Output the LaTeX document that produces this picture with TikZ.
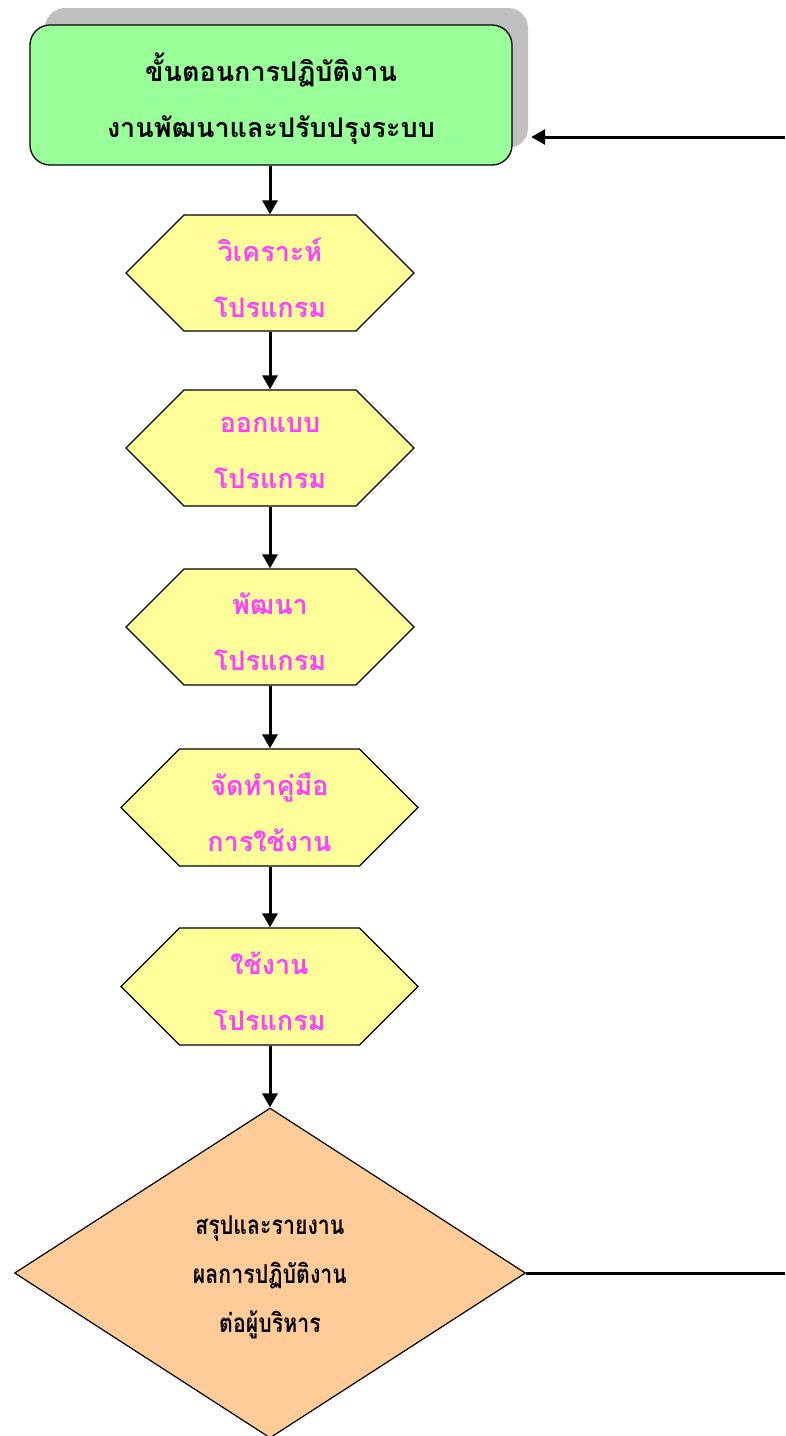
\documentclass[tikz,border=0pt]{standalone}
\usepackage{fontspec}
\newfontfamily\thaifont[Script=Thai]{Loma}
\newfontfamily\thaicond[Script=Thai,FakeStretch=0.82]{Loma}
\usetikzlibrary{shapes.geometric,shapes.symbols,arrows.meta}
\definecolor{boxgreen}{HTML}{99FF99}
\definecolor{hexyellow}{HTML}{FFFF99}
\definecolor{diaorange}{HTML}{FFCC99}
\definecolor{shadowgray}{HTML}{C0C0C0}
\definecolor{pinktext}{HTML}{FF40FF}
\tikzset{
  titlebox/.style={draw=black, line width=1.3pt, fill=boxgreen, rounded corners=20pt,
    minimum width=482pt, minimum height=140pt},
  titletext/.style={align=center, yshift=-4pt, font=\thaifont\bfseries\fontsize{27}{56}\selectfont},
  shadowbox/.style={fill=shadowgray, rounded corners=20pt, minimum width=483pt, minimum height=140pt},
  hexbox/.style={draw=black, line width=1.3pt, fill=hexyellow, signal, signal to=west and east,
    signal pointer angle=90, minimum height=116pt, inner sep=0pt},
  hextext/.style={align=center, yshift=-5pt, text=pinktext,
    font=\thaifont\bfseries\fontsize{27}{56}\selectfont},
  diabox/.style={draw=black, line width=1.2pt, fill=diaorange, diamond, minimum width=511pt,
    minimum height=330pt, inner sep=0pt},
  diatext/.style={align=center, yshift=-4pt, font=\thaicond\bfseries\fontsize{26}{49}\selectfont},
  arr/.style={line width=3pt, -{Triangle[length=14pt,width=15pt]}},
  plainline/.style={line width=3pt}
}
\begin{document}
\begin{tikzpicture}[x=1pt,y=-1pt]
\useasboundingbox (0,0) rectangle (785,1436);
\node[shadowbox] (shadow) at (286.5,78) {};
\node[titlebox, label={[titletext]center:{ขั้นตอนการปฏิบัติงาน\\งานพัฒนาและปรับปรุงระบบ}}] (title) at (271,95) {};
\node[hexbox, minimum width=288pt, label={[hextext]center:{วิเคราะห์\\โปรแกรม}}] (h1) at (270,273) {};
\node[hexbox, minimum width=288pt, label={[hextext]center:{ออกแบบ\\โปรแกรม}}] (h2) at (270,448) {};
\node[hexbox, minimum width=288pt, label={[hextext]center:{พัฒนา\\โปรแกรม}}] (h3) at (270,627) {};
\node[hexbox, minimum width=297pt, minimum height=117pt, label={[hextext]center:{จัดทำคู่มือ\\การใช้งาน}}] (h4) at (269.5,807.5) {};
\node[hexbox, minimum width=297pt, minimum height=117pt, label={[hextext]center:{ใช้งาน\\โปรแกรม}}] (h5) at (269.5,986.5) {};
\node[diabox, label={[diatext]center:{สรุปและรายงาน\\ผลการปฏิบัติงาน\\ต่อผู้บริหาร}}] (dia) at (270,1273) {};
\coordinate (rin) at (785,137);
\coordinate (rout) at (785,1273);
\draw[arr] (title.south -| h1.north) -- (h1.north);
\draw[arr] (h1.south) -- (h2.north);
\draw[arr] (h2.south) -- (h3.north);
\draw[arr] (h3.south) -- (h4.north -| h3.south);
\draw[arr] (h4.south -| h3.south) -- (h5.north -| h3.south);
\draw[arr] (h5.south -| h3.south) -- (dia.north);
\draw[plainline] (dia.east) -- (rout);
\draw[arr] (rin) -- ([xshift=3pt]rin -| shadow.east);
\end{tikzpicture}
\end{document}
